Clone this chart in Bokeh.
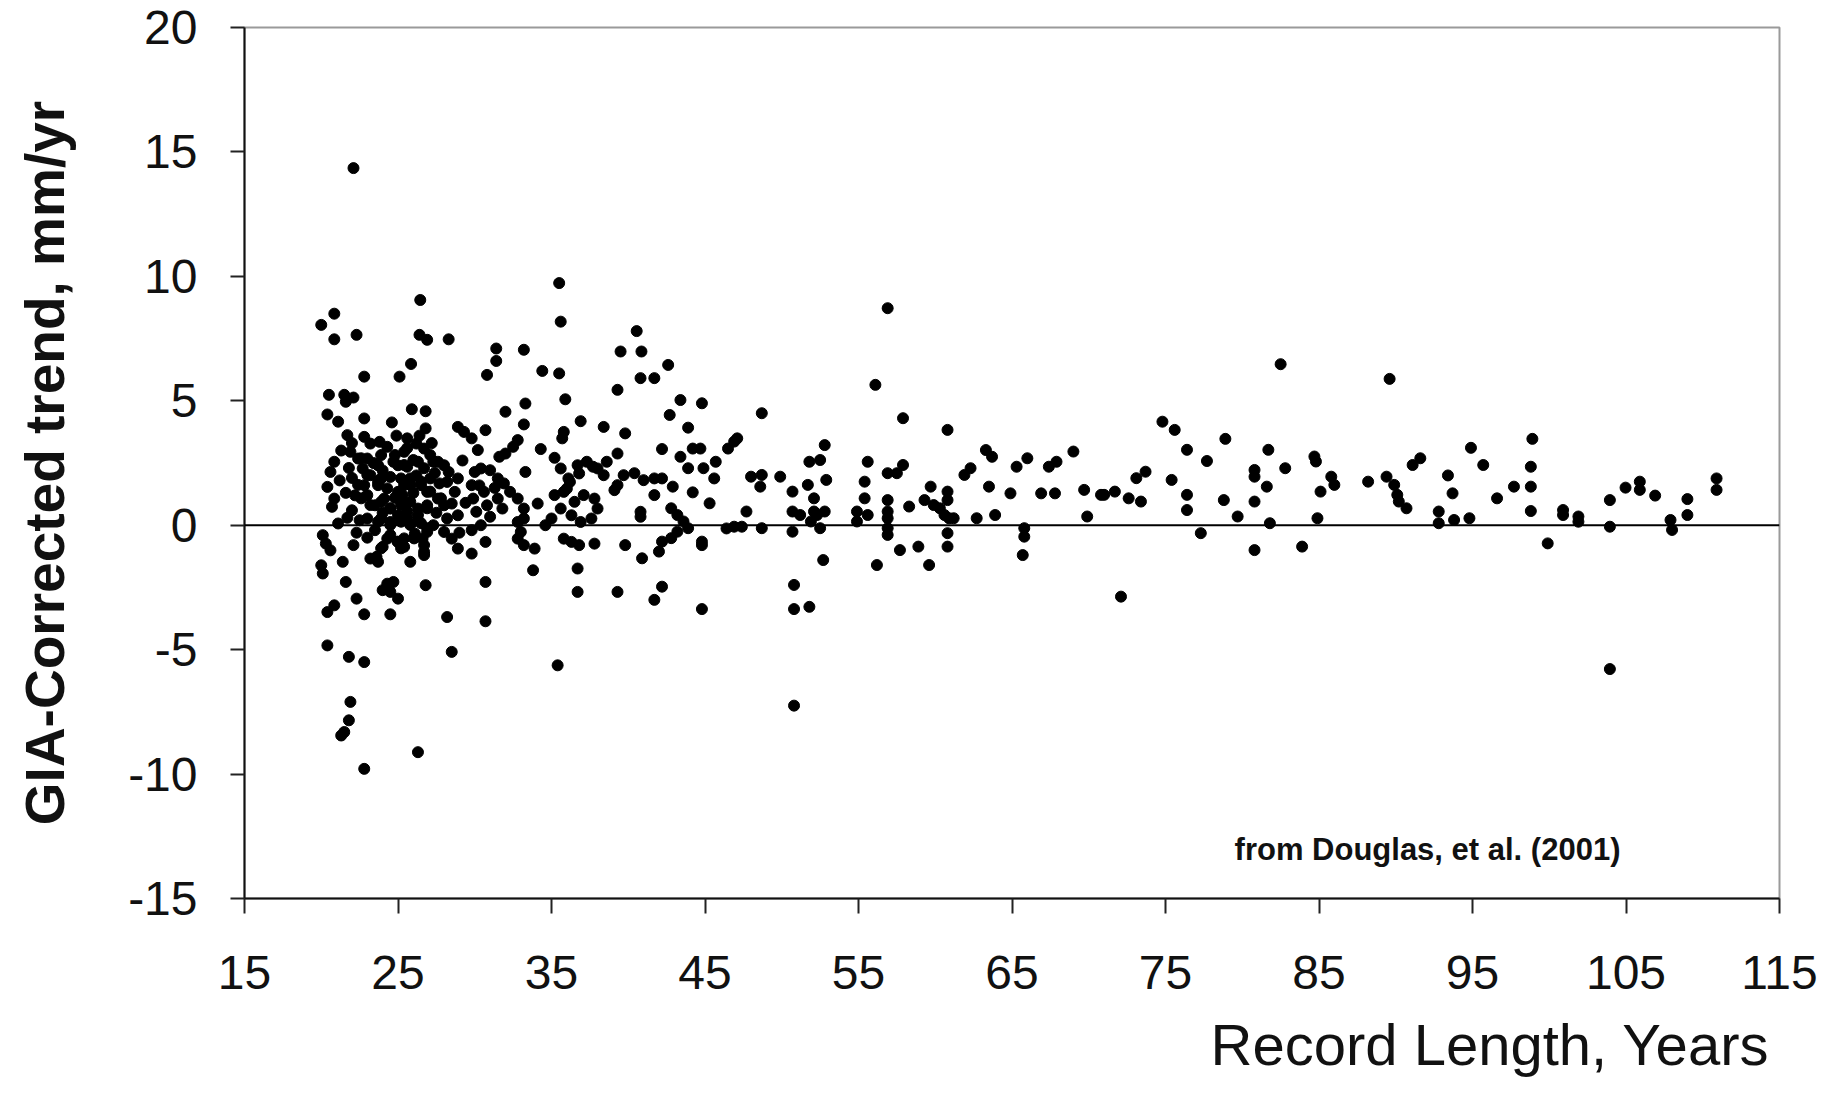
from bokeh.plotting import figure
from bokeh.models import Range1d, FixedTicker, Span, Label, Title, PrintfTickFormatter
from bokeh.embed import file_html
from bokeh.resources import INLINE

# Record length (years) and GIA-corrected trend (mm/yr)
record_length = [
    22.1, 20.0, 20.85, 20.85, 22.3, 26.45, 26.4, 26.9, 28.3, 35.5, 35.6, 31.4, 31.4, 30.8, 33.2, 34.4, 35.5,
    39.5, 39.3, 35.9, 25.85, 25.1, 22.8, 20.5, 21.5, 22.1,
    21.6, 20.4, 21.1, 22.8, 24.6, 25.9, 26.8, 26.8, 21.7, 30.7, 28.9, 29.3, 29.8, 30.2, 32.0, 33.3, 33.2,
    36.9, 38.4, 39.8, 35.8, 35.7, 34.3, 35.2, 32.8, 32.5, 32.0, 31.6, 39.3, 38.6, 37.7, 36.8, 36.2, 36.0,
    39.7, 39.1,
    20.85, 20.6, 20.4, 20.85, 20.7, 21.1,
    22.8, 23.2, 23.8, 24.3, 24.8, 21.9, 22.4, 23.0, 23.7, 22.7, 23.2, 23.9, 24.5, 25.0, 25.4, 25.6, 26.2,
    26.7, 27.1, 27.6, 28.0, 26.3, 25.6, 25.8, 26.5, 25.4, 25.0, 23.7, 23.0, 22.8, 23.5, 24.1, 24.5, 25.2,
    25.8, 26.3, 26.9, 25.0, 25.6, 26.3, 23.9, 24.5, 27.6, 27.7, 28.3, 28.2, 28.7, 28.5, 28.9, 28.2, 27.1,
    26.9, 28.9,
    30.0, 30.4, 31.0, 31.5, 31.9, 32.3, 32.8, 33.2, 33.2, 32.8, 34.1,
    29.8, 29.9, 30.1, 30.6, 30.8, 31.0, 31.5, 31.8, 30.4, 33.3,
    35.6, 36.1, 36.7, 37.3, 38.0, 38.4, 35.8, 36.5, 37.1, 37.8, 38.0, 37.6, 36.9, 36.3, 35.6, 35.2, 35.0,
    34.6, 39.3,
    20.1, 20.3, 20.6, 20.0, 20.1, 21.4, 21.6, 22.1, 22.3, 20.4, 20.85, 22.8, 20.4, 21.8, 22.8, 21.9, 21.8,
    21.5, 21.3, 22.8, 26.3, 23.2, 23.6, 24.0, 24.3, 25.0, 25.4, 25.8, 26.7, 26.6, 26.1, 26.9, 24.0, 24.3,
    24.7, 24.5, 25.0, 24.5, 26.8, 28.2, 28.5, 28.5, 28.9, 29.8, 30.7, 30.7, 30.7, 33.2, 33.9, 33.8, 35.4,
    36.7, 36.7, 39.3, 36.8, 37.8, 35.8, 36.3, 39.8, 32.8, 33.0, 28.0, 29.8,
    22.6, 23.9, 24.7, 25.4, 26.0, 26.7, 27.3, 22.4, 23.0, 23.7, 24.3, 25.2, 25.8, 26.5, 27.1, 27.8, 22.6,
    23.2, 23.9, 24.5, 25.2, 25.6, 26.3, 26.9, 23.0, 23.7, 24.5, 25.2, 25.8, 26.5, 26.9, 24.5, 24.97, 25.4,
    26.05, 26.7, 26.7, 25.2, 23.9, 23.7,
    21.3, 21.8, 22.0, 22.2, 22.0, 21.7, 22.5, 22.3, 23.0, 23.5, 24.0, 24.8, 25.3, 26.0, 26.2, 27.4, 27.5,
    27.3, 28.0, 23.4, 24.0, 25.6, 24.9, 26.4, 27.2, 22.0, 21.2, 21.6, 29.2, 29.4, 30.3, 31.3, 29.0,
    40.55, 40.86, 40.8, 41.7, 42.6, 43.4, 44.8, 42.7, 43.9, 42.2, 43.4, 44.2, 44.7, 43.9, 44.9, 45.6, 45.7,
    46.5, 47.1, 46.9, 40.4, 41.0, 41.7, 42.2, 42.9, 41.7, 40.8, 40.8, 42.8, 43.2, 43.6, 43.9, 43.2, 42.8,
    42.2, 42.0, 44.2, 45.3, 40.9, 41.7, 42.2, 44.8, 44.8, 44.8, 46.4, 46.9, 47.4, 47.7, 48.7, 48.0, 48.6,
    48.7, 49.9, 48.7, 50.8, 50.8, 51.8, 50.8, 50.7, 50.7, 50.7, 51.8, 52.5, 52.8, 52.9, 51.7, 52.1, 52.3,
    52.5, 52.8, 52.1, 51.9, 51.2, 52.7, 54.9, 55.4, 55.6, 55.4, 54.9, 55.6, 56.1, 56.9, 56.2, 56.9, 56.9,
    56.9, 56.9, 56.9, 56.9, 57.9, 57.9, 57.5, 57.7, 58.3, 58.9, 59.6, 59.7, 59.3, 59.9, 60.3, 60.8, 60.8,
    60.6, 60.9, 61.2, 60.8, 60.8, 60.8, 61.9, 62.3, 62.7, 63.3, 63.7, 63.5, 63.9, 64.9, 65.3, 66.0, 65.8,
    65.8, 65.7, 66.9, 67.4, 67.9, 67.8, 69.0, 69.7, 69.9, 70.8,
    71.0, 71.7, 72.6, 73.4, 73.1, 73.7, 72.1, 74.8, 75.6, 75.4, 76.4, 76.4, 76.4, 77.3, 77.7, 78.8, 78.9,
    79.7, 80.8, 80.8, 80.8, 80.8, 81.6, 81.7, 81.8, 82.8, 82.5, 83.9, 84.7, 84.8, 84.9, 85.1, 85.8, 86.0,
    88.2, 89.6, 89.4, 89.9, 90.1, 90.2, 90.7, 91.1, 91.6, 92.8, 92.8, 93.4, 93.7, 93.8, 94.8, 94.9, 95.7,
    96.6, 97.7, 98.8, 98.8, 98.9, 98.8, 99.9,
    100.9, 100.9, 101.9, 101.9, 103.95, 103.95, 103.95, 104.97, 105.9, 105.9, 106.9, 107.9, 108.0, 109.0,
    109.0, 110.9, 110.9,
]

gia_trend = [
    14.35, 8.05, 8.5, 7.47, 7.65, 9.05, 7.65, 7.45, 7.47, 9.73, 8.18, 7.1, 6.6, 6.04, 7.05, 6.2, 6.1,
    6.98, 5.44, 5.06, 6.48, 5.97, 5.97, 5.24, 5.24, 5.13,
    4.96, 4.45, 4.16, 4.29, 4.13, 4.66, 4.58, 3.89, 3.62, 3.82, 3.95, 3.75, 3.49, 3.02, 4.56, 4.89, 4.05,
    4.18, 3.95, 3.69, 3.75, 3.49, 3.06, 2.71, 3.42, 3.15, 2.88, 2.75, 2.88, 2.55, 2.35, 2.08, 1.74, 1.47,
    2.01, 1.41,
    2.55, 2.14, 1.54, 1.07, 0.74, 0.07,
    3.55, 3.28, 3.35, 3.15, 2.82, 2.95, 2.68, 2.68, 2.41, 2.28, 2.01, 1.88, 1.94, 2.41, 2.95, 3.49, 3.28,
    3.08, 2.82, 2.55, 2.41, 2.55, 2.35, 1.88, 1.61, 1.61, 1.34, 1.61, 1.21, 1.61, 0.80, 1.07, 0.67, 0.80,
    0.94, 0.67, 0.80, 0.40, 0.27, 0.20, 0.27, 0.13, 1.07, 1.68, 2.14, 1.74, 1.34, 0.87, 0.40, 0.27, 1.88,
    1.34, 1.88,
    2.14, 2.28, 2.21, 1.88, 1.68, 1.34, 1.07, 0.67, 0.27, 0.13, 0.87,
    1.61, 1.07, 0.54, 1.34, 0.80, 0.34, 1.07, 0.67, 0.0, 2.14,
    2.28, 1.88, 2.41, 2.55, 2.28, 2.01, 1.34, 0.94, 1.21, 1.07, 0.67, 0.27, 0.13, 0.40, 0.67, 1.21, 0.27,
    0.0, 1.61,
    -0.40, -0.74, -1.01, -1.61, -1.94, -1.47, -2.28, -0.80, -2.95, -3.49, -3.22, -3.58, -4.83, -5.29, -5.50, -7.10, -7.84,
    -8.31, -8.45, -9.79, -9.12, -1.34, -1.27, -0.87, -0.54, -0.67, -0.87, -1.47, -1.07, -0.54, -0.34, -0.27, -2.61, -2.35,
    -2.28, -2.68, -2.95, -3.58, -2.41, -3.69, -5.09, -0.54, -0.94, -1.14, -0.67, -2.28, -3.86, -0.80, -0.94, -1.81, -5.63,
    -1.74, -2.68, -2.68, -0.80, -0.74, -0.54, -0.67, -0.80, -0.54, -0.27, -0.27, -0.20,
    2.69, 2.82, 2.55, 2.42, 2.62, 2.29, 2.55, 1.62, 2.02, 1.75, 1.48, 1.88, 1.62, 1.75, 1.35, 1.08, 1.08,
    0.81, 0.94, 0.68, 0.94, 0.54, 0.41, 0.68, 0.27, 0.14, 0.01, 0.14, 0.01, 0.08, -0.12, -0.39, -0.66, -0.53,
    -0.53, -0.8, -1.2, -0.93, -0.93, -1.47,
    3.0, 2.3, 1.9, 1.2, 0.6, 0.3, 0.2, -0.3, -0.5, -0.2, 0.5, 1.1, 1.2, 1.3, 2.0, 2.1, 0.5,
    0.0, 0.8, 2.5, 2.2, 3.1, 3.6, 3.6, 3.3, 3.3, 1.8, 1.3, 2.6, 0.9, 1.6, 1.5, -0.3,
    7.80, 6.98, 5.91, 5.91, 6.44, 5.03, 4.9, 4.43, 3.92, 3.06, 2.75, 3.08, 3.08, 2.29, 2.29, 1.88, 2.55,
    3.08, 3.49, 3.36, 2.09, 1.81, 1.88, 1.88, 1.55, 1.21, 0.54, 0.34, 0.68, 0.41, 0.15, -0.12, -0.26, -0.52,
    -0.66, -1.06, 1.32, 0.88, -1.33, -3.0, -2.47, -0.66, -0.80, -3.37, -0.13, -0.06, -0.06, 0.55, -0.12, 1.95, 1.55,
    2.02, 1.95, 4.5, -2.4, -3.37, -3.28, -7.25, 1.35, 0.55, -0.26, 2.55, 2.62, 3.22, 1.82, 1.62, 1.08, 0.41,
    -0.12, 0.55, 0.55, 0.15, 0.41, -1.4, 0.55, 1.75, 2.55, 1.08, 0.15, 0.41, 5.64, 8.72, -1.6, 2.09, 0.55,
    0.28, -0.12, -0.39, 1.01, 4.3, 2.42, 2.09, -1.0, 0.75, -0.86, -1.6, 1.55, 1.01, 0.81, 0.68, 1.35, 1.01,
    0.41, 0.28, 0.28, -0.32, -0.86, 3.83, 2.02, 2.29, 0.28, 3.02, 2.75, 1.55, 0.41, 1.28, 2.35, 2.69, -0.12,
    -0.46, -1.2, 1.28, 2.35, 2.55, 1.28, 2.96, 1.42, 0.35, 1.22,
    1.22, 1.35, 1.08, 0.95, 1.89, 2.15, -2.87, 4.16, 3.83, 1.82, 3.03, 1.22, 0.61, -0.32, 2.58, 1.01, 3.47,
    0.35, 2.22, 1.95, 0.95, -1.0, 1.55, 3.03, 0.08, 2.29, 6.47, -0.86, 2.76, 2.56, 0.28, 1.35, 1.95, 1.62,
    1.75, 5.88, 1.95, 1.62, 1.22, 0.95, 0.68, 2.42, 2.69, 0.55, 0.08, 2.0, 1.28, 0.21, 0.28, 3.11, 2.42,
    1.08, 1.55, 1.55, 2.35, 3.47, 0.57, -0.73,
    0.61, 0.41, 0.35, 0.14, 1.01, -0.06, -5.78, 1.51, 1.75, 1.42, 1.19, 0.21, -0.19, 1.05,
    0.41, 1.88, 1.42,
]

x_ticks = [15, 25, 35, 45, 55, 65, 75, 85, 95, 105, 115]
y_ticks = [-15, -10, -5, 0, 5, 10, 15, 20]

FONT = "Liberation Sans"

n = min(len(record_length), len(gia_trend))

p = figure(width=1845, height=1095, output_backend="svg", toolbar_location=None,
           x_range=Range1d(15, 115), y_range=Range1d(-15, 20),
           min_border_left=244, min_border_right=66, min_border_top=27, min_border_bottom=197)
p.background_fill_color = "white"
p.border_fill_color = "white"
p.grid.visible = False
p.outline_line_color = "#9a9a9a"
p.outline_line_width = 2

p.scatter(record_length[:n], gia_trend[:n], size=11, marker="circle",
          fill_color="black", line_color="black")

p.add_layout(Span(location=0, dimension="width", line_color="black", line_width=2))

for ax, ticks, tout in ((p.xaxis, x_ticks, 15), (p.yaxis, y_ticks, 14)):
    ax.ticker = FixedTicker(ticks=ticks)
    ax.formatter = PrintfTickFormatter(format="%d")
    ax.minor_tick_line_color = None
    ax.major_tick_in = 0
    ax.major_tick_out = tout
    ax.major_tick_line_width = 2
    ax.major_tick_line_color = "#222222"
    ax.axis_line_width = 2
    ax.axis_line_color = "#111111"
    ax.major_label_text_font = FONT
    ax.major_label_text_font_size = "48px"
    ax.major_label_text_color = "#111111"

p.xaxis.major_label_standoff = 42
p.yaxis.major_label_standoff = 33

p.yaxis.axis_label = "GIA-Corrected trend, mm/yr"
p.yaxis.axis_label_text_font = FONT
p.yaxis.axis_label_text_font_style = "bold"
p.yaxis.axis_label_text_font_size = "55px"
p.yaxis.axis_label_text_color = "#111111"
p.yaxis.axis_label_standoff = 49

p.add_layout(Title(text="Record Length, Years", align="right", text_font=FONT,
                   text_font_size="58px", text_font_style="normal", text_color="#111111",
                   offset=10, standoff=36), "below")

p.add_layout(Label(x=79.5, y=-13.04, text="from Douglas, et al. (2001)", text_font=FONT,
                   text_font_size="31px", text_font_style="bold", text_color="#111111",
                   text_baseline="middle", text_align="left"))

open("out.html", "w").write(file_html(p, INLINE))
